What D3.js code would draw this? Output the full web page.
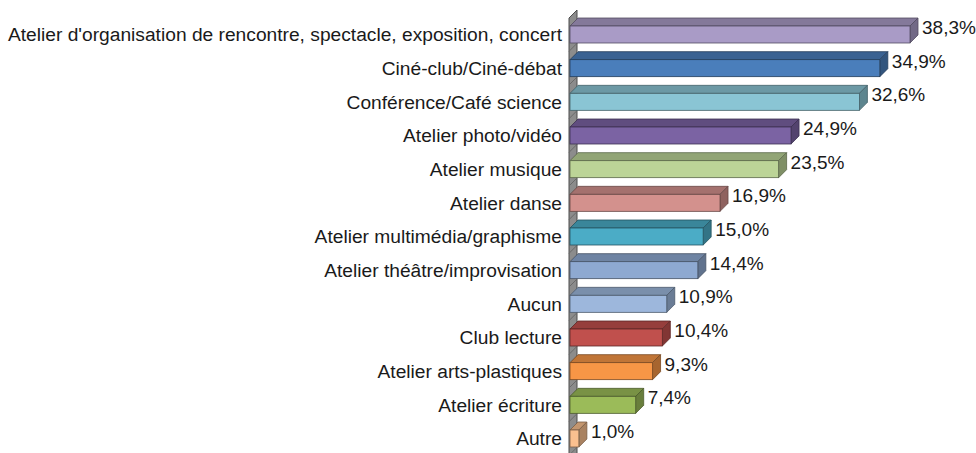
<!DOCTYPE html>
<html><head><meta charset="utf-8">
<script src="https://cdn.jsdelivr.net/npm/d3@7"></script>
<style>body{margin:0;background:#fff;}svg{display:block;}</style>
</head><body>
<svg id="c" width="976" height="453"></svg>
<script>
const categories = ["Atelier d'organisation de rencontre, spectacle, exposition, concert","Ciné-club/Ciné-débat","Conférence/Café science","Atelier photo/vidéo","Atelier musique","Atelier danse","Atelier multimédia/graphisme","Atelier théâtre/improvisation","Aucun","Club lecture","Atelier arts-plastiques","Atelier écriture","Autre"];
const values = [38.3,34.9,32.6,24.9,23.5,16.9,15.0,14.4,10.9,10.4,9.3,7.4,1.0];
const valueLabels = ["38,3%","34,9%","32,6%","24,9%","23,5%","16,9%","15,0%","14,4%","10,9%","10,4%","9,3%","7,4%","1,0%"];
const colors = ["#A99BC6","#4A7EBB","#8AC5D4","#7B63A3","#BCD497","#D3918D","#4BACC6","#8EA9D1","#9DB7DC","#C0504D","#F79646","#9BBB59","#FAC08F"];

const svg = d3.select("#c");
const x = d3.scaleLinear().domain([0,38.3]).range([570,910]);
const y = d3.scalePoint().domain(categories).range([34.5,438.5]);
const D = 8, H = 17;

// wall
const wallTop = 18, wallBot = 470;
svg.append("polygon")
  .attr("points", [[569,wallTop],[577,wallTop-D],[577,wallBot-D],[569,wallBot]].map(p=>p.join(",")).join(" "))
  .attr("fill","#8c8c8c").attr("stroke","#4d4d4d").attr("stroke-width",1);
const step = y.step();
categories.forEach((c,i)=>{
  const yy = y(c) + step/2;
  svg.append("line").attr("x1",569).attr("y1",yy).attr("x2",577).attr("y2",yy-D)
    .attr("stroke","#6a6a6a").attr("stroke-width",1);
});

const g = svg.append("g");
categories.forEach((c,i)=>{
  const col = d3.color(colors[i]);
  const x0 = x(0), x1 = x(values[i]);
  const yt = y(c) - H/2, yb = y(c) + H/2;
  const stroke = col.darker(2).formatHex();
  g.append("polygon")
    .attr("points", [[x0,yt],[x0+D,yt-D],[x1+D,yt-D],[x1,yt]].map(p=>p.join(",")).join(" "))
    .attr("fill", col.darker(0.7).formatHex()).attr("stroke",stroke).attr("stroke-width",0.8).attr("stroke-linejoin","round");
  g.append("polygon")
    .attr("points", [[x1,yt],[x1+D,yt-D],[x1+D,yb-D],[x1,yb]].map(p=>p.join(",")).join(" "))
    .attr("fill", col.darker(1.1).formatHex()).attr("stroke",stroke).attr("stroke-width",0.8).attr("stroke-linejoin","round");
  g.append("rect")
    .attr("x",x0).attr("y",yt).attr("width",x1-x0).attr("height",H)
    .attr("fill", col.formatHex()).attr("stroke",stroke).attr("stroke-width",0.8);
  svg.append("text").attr("x",x1+D+4).attr("y",y(c)-7).attr("dy","0.35em")
    .attr("font-family","Liberation Sans, Arial, sans-serif").attr("font-size",19)
    .attr("fill","#1a1a1a").text(valueLabels[i]);
  svg.append("text").attr("x",562).attr("y",y(c)).attr("dy","0.35em").attr("text-anchor","end")
    .attr("font-family","Liberation Sans, Arial, sans-serif").attr("font-size",19.2)
    .attr("fill","#1a1a1a").text(c);
});
</script>
</body></html>
